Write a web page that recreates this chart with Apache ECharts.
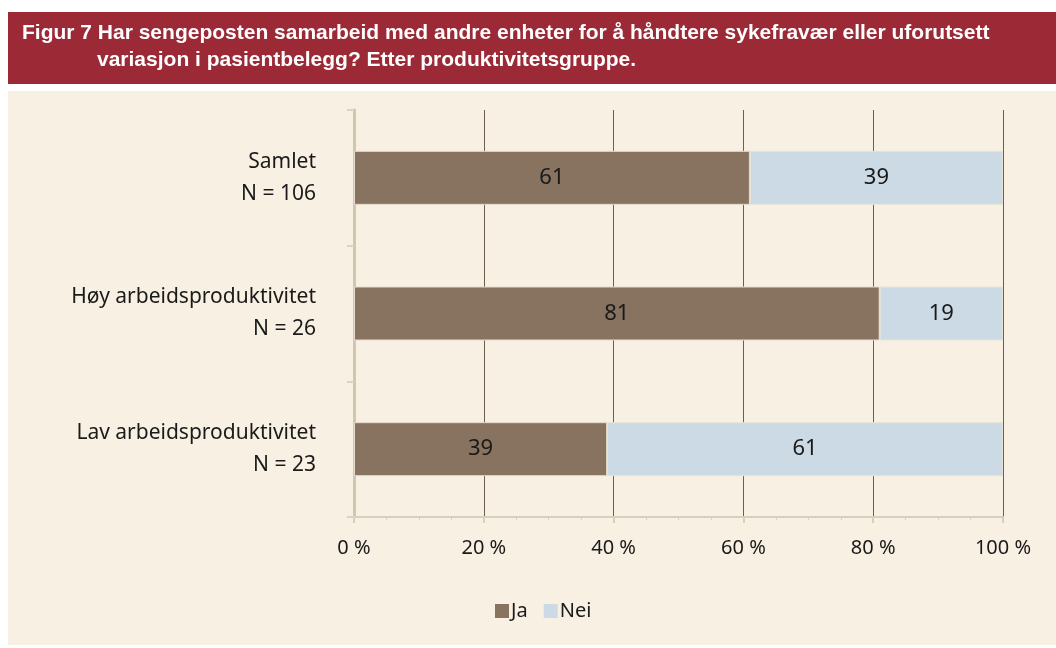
<!DOCTYPE html>
<html>
<head>
<meta charset="utf-8">
<script src="https://cdn.jsdelivr.net/npm/echarts@6/dist/echarts.min.js"></script>
<style>
  html, body { margin: 0; padding: 0; background: #ffffff; }
  #chart { width: 1056px; height: 648px; }
</style>
</head>
<body>
<div id="chart"></div>
<script>
// data
var categories = ['Samlet\nN = 106', 'Høy arbeidsproduktivitet\nN = 26', 'Lav arbeidsproduktivitet\nN = 23'];
var jaValues = [61, 81, 39];
var neiValues = [39, 19, 61];
var seriesNames = ['Ja', 'Nei'];
var xTicks = [0, 20, 40, 60, 80, 100];

var fontFam = '"Noto Sans", "Open Sans", sans-serif';

var chart = echarts.init(document.getElementById('chart'));

function barLabel() {
    return {
        show: true,
        position: 'inside',
        color: '#1a1a1a',
        fontSize: 22,
        fontFamily: fontFam
    };
}

var option = {
    backgroundColor: '#ffffff',
    animation: false,
    graphic: [
        // red title band
        { type: 'rect', left: 8, top: 12, shape: { width: 1048, height: 72 }, style: { fill: '#9B2A36' }, z: -10 },
        // cream chart area
        { type: 'rect', left: 8, top: 91, shape: { width: 1048, height: 554 }, style: { fill: '#F8F0E2' }, z: -10 },
        { type: 'text', left: 22, top: 23, style: { text: 'Figur 7 Har sengeposten samarbeid med andre enheter for å håndtere sykefravær eller uforutsett', fill: '#ffffff', font: 'bold 21px "Liberation Sans", Arial, sans-serif' } },
        { type: 'text', left: 97, top: 50, style: { text: 'variasjon i pasientbelegg? Etter produktivitetsgruppe.', fill: '#ffffff', font: 'bold 21px "Liberation Sans", Arial, sans-serif' } }
    ],
    legend: {
        data: seriesNames,
        left: 490,
        top: 596,
        itemWidth: 14,
        itemHeight: 14,
        itemGap: 16,
        icon: 'rect',
        itemStyle: { borderWidth: 0 },
        textStyle: { fontSize: 20, fontFamily: fontFam, color: '#1a1a1a', padding: [0, 0, 0, -3] }
    },
    grid: {
        left: 354,
        right: 53,
        top: 110,
        bottom: 131
    },
    xAxis: {
        type: 'value',
        min: 0,
        max: 100,
        interval: 20,
        axisLine: { show: true, lineStyle: { color: '#D8CFBC', width: 2 } },
        axisTick: { show: true, length: 6, lineStyle: { color: '#D8CFBC', width: 2 } },
        minorTick: { show: true, splitNumber: 4, length: 3, lineStyle: { color: '#D8CFBC', width: 1 } },
        splitLine: { show: true, lineStyle: { color: '#6F5E4E', width: 1 } },
        axisLabel: {
            margin: 21,
            fontSize: 20,
            fontFamily: fontFam,
            color: '#1a1a1a',
            customValues: xTicks,
            formatter: function (v) { return v + ' %'; }
        }
    },
    yAxis: {
        type: 'category',
        data: categories,
        inverse: true,
        axisLine: { show: true, lineStyle: { color: '#D0C7B2', width: 3 } },
        axisTick: { show: true, length: 7, lineStyle: { color: '#DCD3C0', width: 2 } },
        axisLabel: {
            margin: 38,
            fontSize: 21,
            fontFamily: fontFam,
            color: '#1a1a1a',
            lineHeight: 32,
            align: 'right'
        }
    },
    series: [
        {
            name: seriesNames[0],
            type: 'bar',
            stack: 'total',
            data: jaValues,
            barWidth: 54,
            itemStyle: { color: '#87735F', borderColor: '#E6DCCB', borderWidth: 1 },
            label: barLabel()
        },
        {
            name: seriesNames[1],
            type: 'bar',
            stack: 'total',
            data: neiValues,
            barWidth: 54,
            itemStyle: { color: '#CCDAE6', borderColor: '#E6E3DA', borderWidth: 1 },
            label: barLabel()
        }
    ]
};

chart.setOption(option);
</script>
</body>
</html>
